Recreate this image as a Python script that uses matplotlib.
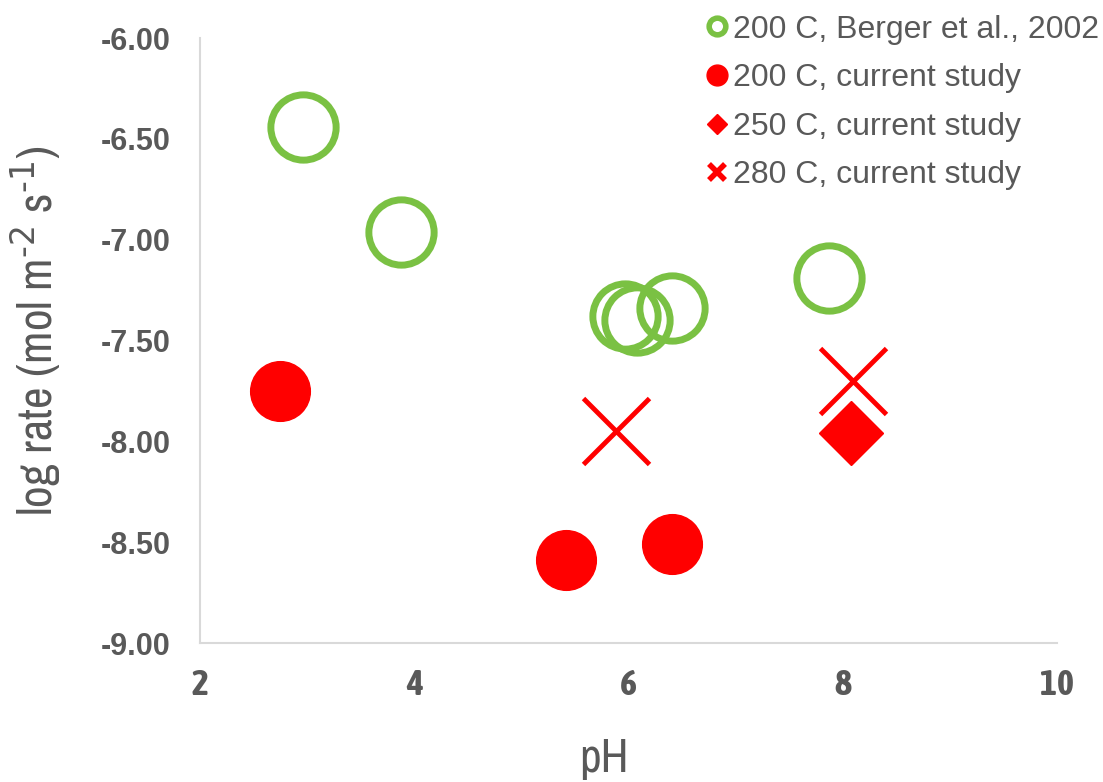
import matplotlib.pyplot as plt
from matplotlib.lines import Line2D

# data
berger_ph = [2.96, 3.88, 5.97, 6.08, 6.41, 7.87]
berger_rate = [-6.44, -6.96, -7.38, -7.40, -7.34, -7.19]

cur200_ph = [2.75, 5.42, 6.41]
cur200_rate = [-7.75, -8.59, -8.51]

cur250_ph = [8.08]
cur250_rate = [-7.96]

cur280_ph = [5.88, 8.10]
cur280_rate = [-7.95, -7.70]

labels = ['200 C, Berger et al., 2002', '200 C, current study',
          '250 C, current study', '280 C, current study']

GREEN = '#7AC143'
RED = '#FF0000'
GREY = '#595959'
NARROW = ['Archivo Narrow', 'Liberation Sans']
NARROW_BOLD = ['Asap Condensed', 'Liberation Sans']

fig = plt.figure(figsize=(11.03, 7.82), dpi=100)
ax = fig.add_axes([0.1813, 0.1777, 0.777, 0.7737])

ax.plot(berger_ph, berger_rate, 'o', ms=47, mfc='none', mec=GREEN, mew=5, ls='none')
ax.plot(cur200_ph, cur200_rate, 'o', ms=43, color=RED, ls='none')
ax.plot(cur250_ph, cur250_rate, 'D', ms=33, color=RED, ls='none')
ax.plot(cur280_ph, cur280_rate, 'x', ms=48, mec=RED, mew=3.5, ls='none')

ax.set_xlim(2, 10)
ax.set_ylim(-9, -6)
ax.set_xticks([2, 4, 6, 8, 10])
ax.set_yticks([-9, -8.5, -8, -7.5, -7, -6.5, -6])
ax.set_yticklabels(['%.2f' % v for v in ax.get_yticks()])

for s in ['top', 'right']:
    ax.spines[s].set_visible(False)
for s in ['left', 'bottom']:
    ax.spines[s].set_color('#D9D9D9')
    ax.spines[s].set_linewidth(1.5)

ax.tick_params(length=0)
ax.tick_params(axis='y', pad=21)
ax.tick_params(axis='x', pad=18)
for t in ax.get_yticklabels():
    t.set_fontfamily(['Liberation Sans', 'DejaVu Sans'])
    t.set_fontweight('bold')
    t.set_fontsize(22)
    t.set_color(GREY)
for t in ax.get_xticklabels():
    t.set_fontfamily(NARROW_BOLD)
    t.set_fontweight('bold')
    t.set_fontsize(26)
    t.set_color(GREY)

ax.set_xlabel('pH', fontsize=34, color=GREY, family=NARROW)
ax.xaxis.set_label_coords(0.471, -0.155, transform=ax.transAxes)
ax.xaxis.label.set_va('top')
ax.set_ylabel(r'log rate (mol m$^{\text{-2}}$ s$^{\text{-1}}$)', fontsize=34, color=GREY,
              family=NARROW)
ax.yaxis.set_label_coords(-0.16, 0.516, transform=ax.transAxes)

handles = [
    Line2D([], [], ls='none', marker='o', ms=12, mfc='none', mec=GREEN, mew=4),
    Line2D([], [], ls='none', marker='o', ms=15, color=RED),
    Line2D([], [], ls='none', marker='D', ms=10, color=RED),
    Line2D([], [], ls='none', marker='x', ms=12, mec=RED, mew=4),
]
leg = fig.legend(handles, labels, loc='upper left', bbox_to_anchor=(0.612, 1.018),
                 frameon=False, handlelength=0.8, handletextpad=0.1,
                 labelspacing=0.58, prop={'family': 'Liberation Sans', 'size': 23})
for t in leg.get_texts():
    t.set_color(GREY)

fig.savefig('out.png', dpi=100)
